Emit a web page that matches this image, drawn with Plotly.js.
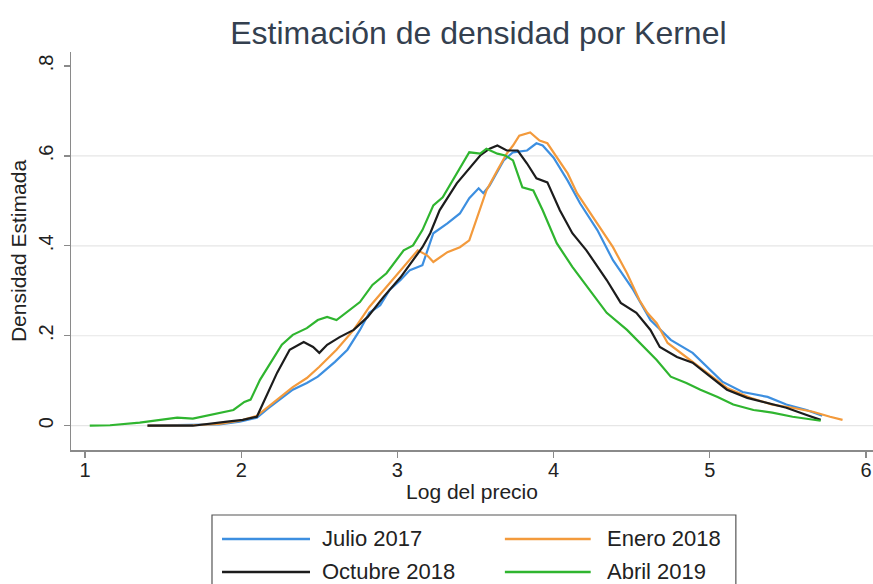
<!DOCTYPE html>
<html>
<head>
<meta charset="utf-8">
<script src="https://cdn.plot.ly/plotly-3.0.1.min.js"></script>
<style>html,body{margin:0;padding:0;background:#fff;}#chart{width:873px;height:584px;}</style>
</head>
<body>
<div id="chart"></div>
<script>
// ---- data ----
const seriesNames = ["Julio 2017", "Enero 2018", "Octubre 2018", "Abril 2019"];
const seriesColors = ["#3d8fe0", "#f39a3c", "#1c1c1c", "#2fb52f"];

const julioX = [1.40,1.69,1.86,1.99,2.10,2.17,2.25,2.33,2.42,2.49,2.52,2.60,2.68,2.76,2.82,2.89,2.95,3.02,3.08,3.16,3.23,3.32,3.40,3.46,3.52,3.55,3.59,3.68,3.74,3.83,3.89,3.93,4.00,4.09,4.17,4.28,4.38,4.51,4.62,4.75,4.89,4.98,5.08,5.21,5.37,5.49,5.62,5.72];
const julioY = [0.000,0.001,0.003,0.009,0.018,0.038,0.060,0.080,0.095,0.109,0.118,0.142,0.169,0.213,0.251,0.268,0.302,0.324,0.346,0.357,0.428,0.450,0.472,0.506,0.528,0.517,0.534,0.590,0.608,0.612,0.628,0.623,0.596,0.545,0.494,0.435,0.368,0.302,0.235,0.191,0.162,0.131,0.098,0.075,0.064,0.047,0.035,0.022];

const eneroX = [1.40,1.69,1.86,1.99,2.10,2.17,2.25,2.33,2.42,2.50,2.61,2.72,2.82,2.93,3.04,3.13,3.19,3.23,3.32,3.40,3.46,3.51,3.57,3.64,3.70,3.74,3.78,3.85,3.91,3.96,4.02,4.09,4.15,4.21,4.30,4.38,4.47,4.55,4.60,4.66,4.73,4.85,4.98,5.11,5.26,5.40,5.53,5.66,5.77,5.85];
const eneroY = [0.000,0.001,0.004,0.011,0.022,0.042,0.064,0.086,0.106,0.131,0.169,0.213,0.264,0.308,0.353,0.390,0.379,0.364,0.386,0.397,0.412,0.463,0.523,0.568,0.605,0.623,0.645,0.652,0.634,0.628,0.596,0.561,0.517,0.486,0.441,0.397,0.339,0.279,0.251,0.228,0.184,0.153,0.118,0.084,0.062,0.047,0.040,0.031,0.020,0.013];

const octubreX = [1.40,1.69,1.91,2.01,2.10,2.17,2.23,2.31,2.40,2.46,2.50,2.55,2.63,2.72,2.81,2.91,3.02,3.10,3.16,3.21,3.27,3.38,3.46,3.53,3.59,3.64,3.70,3.77,3.83,3.89,3.96,4.04,4.12,4.21,4.34,4.43,4.53,4.62,4.68,4.79,4.89,5.00,5.11,5.24,5.37,5.49,5.62,5.71];
const octubreY = [0.000,0.000,0.009,0.013,0.020,0.073,0.118,0.169,0.186,0.175,0.162,0.180,0.197,0.213,0.242,0.286,0.330,0.368,0.397,0.428,0.479,0.539,0.572,0.601,0.616,0.623,0.612,0.612,0.583,0.550,0.541,0.479,0.428,0.390,0.324,0.273,0.251,0.213,0.175,0.153,0.140,0.109,0.080,0.062,0.051,0.040,0.024,0.013];

const abrilX = [1.03,1.16,1.35,1.48,1.59,1.69,1.80,1.88,1.95,2.02,2.06,2.12,2.18,2.26,2.33,2.42,2.49,2.55,2.61,2.68,2.76,2.84,2.93,3.04,3.10,3.16,3.23,3.29,3.38,3.46,3.53,3.57,3.64,3.69,3.74,3.80,3.87,3.93,4.02,4.12,4.23,4.34,4.47,4.55,4.66,4.75,4.85,4.94,5.05,5.15,5.28,5.40,5.53,5.71];
const abrilY = [0.000,0.001,0.007,0.013,0.018,0.016,0.024,0.031,0.035,0.053,0.058,0.102,0.135,0.180,0.202,0.217,0.235,0.242,0.235,0.253,0.275,0.313,0.339,0.390,0.401,0.435,0.490,0.508,0.561,0.608,0.605,0.616,0.605,0.601,0.590,0.530,0.523,0.479,0.406,0.353,0.302,0.251,0.213,0.184,0.146,0.109,0.095,0.080,0.064,0.047,0.035,0.029,0.020,0.011];

const xTickVals = [1, 2, 3, 4, 5, 6];
const xTickText = ["1", "2", "3", "4", "5", "6"];
const yTickVals = [0, 0.2, 0.4, 0.6, 0.8];
const yTickText = ["0", ".2", ".4", ".6", ".8"];
const gridVals = [0, 0.2, 0.4, 0.6];

const titleText = "Estimación de densidad por Kernel";
const xTitle = "Log del precio";
const yTitle = "Densidad Estimada";

// ---- build ----
const xs = [julioX, eneroX, octubreX, abrilX];
const ys = [julioY, eneroY, octubreY, abrilY];
const FONT = "Liberation Sans, Arial, sans-serif";

const traces = seriesNames.map((n, i) => ({
  type: "scatter", mode: "lines", name: n,
  x: xs[i], y: ys[i],
  line: {color: seriesColors[i], width: 2.2},
  showlegend: false, hoverinfo: "skip"
}));
const shapes = gridVals.map(v => ({
  type: "line", xref: "paper", yref: "y", x0: 0, x1: 1, y0: v, y1: v,
  line: {color: "#e6e6e6", width: 1.2}, layer: "below"
}));

// manual legend (two columns)
const legBox = {x0: 0.1758, x1: 0.829, y0: -0.38, y1: -0.1633};
shapes.push({type: "rect", xref: "paper", yref: "paper", x0: legBox.x0, x1: legBox.x1, y0: legBox.y0, y1: legBox.y1,
  line: {color: "#555555", width: 1.2}, fillcolor: "rgba(0,0,0,0)"});
const legCols = [{l0: 0.1883, l1: 0.298, t: 0.311}, {l0: 0.541, l1: 0.648, t: 0.666}];
const legRows = [-0.2236, -0.3065];
const annotations = [];
seriesNames.forEach((n, i) => {
  const c = legCols[i % 2], r = legRows[Math.floor(i / 2)];
  shapes.push({type: "line", xref: "paper", yref: "paper", x0: c.l0, x1: c.l1, y0: r, y1: r,
    line: {color: seriesColors[i], width: 2.6}});
  annotations.push({xref: "paper", yref: "paper", x: c.t, y: r, xanchor: "left", yanchor: "middle",
    text: n, showarrow: false, font: {family: FONT, size: 22, color: "#222222"}});
});

const layout = {
  width: 873, height: 584,
  margin: {l: 71, r: 0, t: 52, b: 134},
  paper_bgcolor: "#ffffff", plot_bgcolor: "#ffffff",
  font: {family: FONT, color: "#222222"},
  title: {text: titleText, x: 0.548, xref: "container", xanchor: "center",
    y: 0.9435, yref: "container", yanchor: "middle",
    font: {family: FONT, size: 32, color: "#34404f"}},
  xaxis: {
    range: [0.91, 6.045], tickmode: "array", tickvals: xTickVals, ticktext: xTickText,
    showgrid: false, zeroline: false, showline: true, linecolor: "#8a8a8a", linewidth: 1.5,
    ticks: "outside", ticklen: 6, tickwidth: 1.3, tickcolor: "#8a8a8a",
    ticklabelstandoff: -5,
    tickfont: {family: FONT, size: 20, color: "#222222"},
    title: {text: xTitle, standoff: 5, font: {family: FONT, size: 21, color: "#222222"}}
  },
  yaxis: {
    range: [-0.054, 0.831], tickmode: "array", tickvals: yTickVals, ticktext: yTickText,
    tickangle: -90,
    showgrid: false, zeroline: false, showline: true, linecolor: "#8a8a8a", linewidth: 1.5,
    ticks: "outside", ticklen: 6, tickwidth: 1.3, tickcolor: "#8a8a8a",
    ticklabelstandoff: 3,
    tickfont: {family: FONT, size: 20, color: "#222222"},
    title: {text: yTitle, standoff: 2, font: {family: FONT, size: 21, color: "#222222"}}
  },
  shapes: shapes,
  annotations: annotations,
  showlegend: false
};

Plotly.newPlot("chart", traces, layout, {staticPlot: true, displayModeBar: false});
</script>
</body>
</html>
